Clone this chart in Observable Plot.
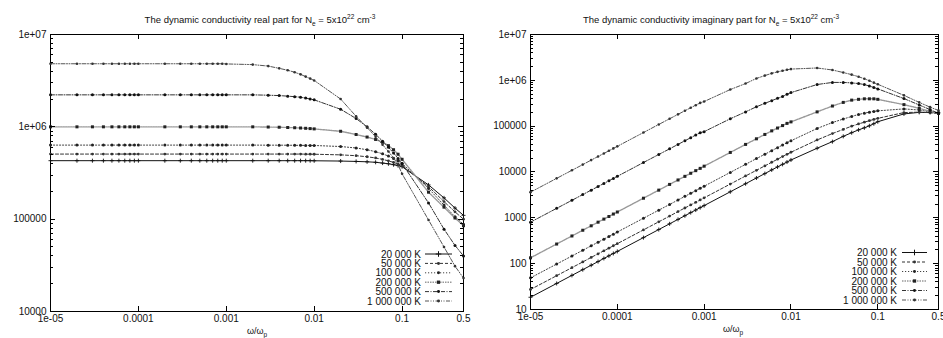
<!DOCTYPE html>
<html><head><meta charset="utf-8">
<script src="https://cdn.jsdelivr.net/npm/d3@7"></script>
<script src="https://cdn.jsdelivr.net/npm/@observablehq/plot@0.6"></script>
<style>
body{margin:0;background:#fff;width:943px;height:338px;overflow:hidden;position:relative;font-family:"Liberation Sans",Arial,sans-serif;}
.panel{position:absolute;top:0;height:338px;}
.title{position:absolute;top:13px;font-size:9.5px;white-space:nowrap;transform:translateX(-50%);color:#111;}
.title sub,.title sup{font-size:6.5px;}
.xlabel{position:absolute;font-size:9px;white-space:nowrap;transform:translateX(-50%);color:#111;}
.xlabel sub{font-size:6.5px;}
</style></head><body>
<div id="left" class="panel" style="left:0;width:470px"></div>
<div id="right" class="panel" style="left:470px;width:473px"></div>
<div class="title" style="left:260px">The dynamic conductivity real part for N<sub>e</sub> = 5x10<sup>22</sup> cm<sup>-3</sup></div>
<div class="title" style="left:711px">The dynamic conductivity imaginary part for N<sub>e</sub> = 5x10<sup>22</sup> cm<sup>-3</sup></div>
<div class="xlabel" style="left:257px;top:326px">ω/ω<sub>p</sub></div>
<div class="xlabel" style="left:733px;top:324px">ω/ω<sub>p</sub></div>
<script>
// ---- data ----
const temps = ["20 000 K","50 000 K","100 000 K","200 000 K","500 000 K","1 000 000 K"];
const xs = [1e-5,2e-5,3e-5,4e-5,5e-5,6e-5,7e-5,8e-5,9e-5,
  1e-4,2e-4,3e-4,4e-4,5e-4,6e-4,7e-4,8e-4,9e-4,
  1e-3,2e-3,3e-3,4e-3,5e-3,6e-3,7e-3,8e-3,9e-3,
  0.01,0.02,0.03,0.04,0.05,0.06,0.07,0.08,0.09,
  0.1,0.2,0.3,0.4,0.5];

// real part
const re20k = [430000,430000,430000,430000,430000,430000,430000,430000,430000,
  430000,430000,430000,430000,430000,430000,430000,430000,430000,
  430000,430000,430000,430000,430000,430000,430000,430000,430000,
  429000,426000,422000,418000,413000,405000,398000,389000,380000,
  370000,235000,170000,132000,110000];
const re50k = [507000,507000,507000,507000,507000,507000,507000,507000,507000,
  507000,507000,507000,507000,507000,507000,507000,507000,507000,
  507000,507000,507000,507000,507000,507000,507000,506000,506000,
  505000,497000,487000,474000,460000,444000,428000,412000,396000,
  380000,225000,155000,120000,100000];
const re100k = [634000,634000,634000,634000,634000,634000,634000,634000,634000,
  634000,634000,634000,634000,634000,634000,634000,634000,634000,
  634000,634000,633000,633000,632000,631000,630000,629000,629000,
  628000,612000,590000,565000,538000,510000,482000,455000,428000,
  402000,215000,142000,106000,88000];
const re200k = [1000000,1000000,1000000,1000000,1000000,1000000,1000000,1000000,1000000,
  1000000,1000000,1000000,1000000,1000000,1000000,1000000,1000000,1000000,
  1000000,1000000,995000,990000,984000,978000,971000,964000,957000,
  950000,895000,826000,775000,730000,680000,625000,565000,505000,
  445000,196000,135000,103000,85000];
const re500k = [2220000,2220000,2220000,2220000,2220000,2220000,2220000,2220000,2220000,
  2220000,2220000,2220000,2220000,2220000,2220000,2220000,2220000,2220000,
  2220000,2220000,2200000,2180000,2150000,2120000,2090000,2050000,2000000,
  1960000,1550000,1230000,1000000,830000,700000,600000,520000,455000,
  400000,150000,78000,52000,40000];
const re1M = [4820000,4820000,4820000,4820000,4820000,4820000,4820000,4820000,4820000,
  4820000,4820000,4820000,4820000,4820000,4820000,4820000,4820000,4820000,
  4800000,4720000,4550000,4300000,4100000,3900000,3700000,3500000,3330000,
  3180000,2000000,1300000,980000,780000,640000,540000,460000,390000,
  310000,98000,50000,31000,23000];

// imaginary part
const im20k = [18.5,37,55.5,74,92.5,111,130,148,167,
  185,370,555,740,925,1110,1300,1480,1670,
  1850,3700,5550,7400,9230,11100,12900,14700,16500,
  18300,33000,46000,60000,72000,83000,92000,102000,113000,
  125000,185000,200000,198000,195000];
const im50k = [27.3,54.6,81.9,109,137,164,191,218,246,
  273,546,819,1090,1370,1640,1910,2180,2460,
  2730,5460,8190,10900,13600,16300,19000,21700,24300,
  27000,50000,69000,85000,100000,112000,122000,132000,140000,
  148000,198000,202000,197000,190000];
const im100k = [49,98,147,196,245,294,343,392,441,
  490,980,1470,1960,2450,2940,3430,3920,4410,
  4900,9800,14700,19600,24400,29200,34000,38800,43500,
  48000,89000,120000,143000,163000,180000,192000,202000,210000,
  216000,238000,225000,205000,190000];
const im200k = [134,268,402,536,670,804,938,1070,1210,
  1340,2680,4020,5360,6700,8040,9380,10700,12000,
  13400,26700,40000,53000,66000,79000,91000,103000,115000,
  124000,205000,275000,330000,370000,385000,395000,395000,395000,
  385000,295000,245000,210000,195000];
const im500k = [804,1610,2410,3220,4020,4820,5630,6430,7240,
  8040,16100,24100,32000,40000,48000,56000,64000,72000,
  76000,145000,205000,265000,315000,360000,405000,445000,495000,
  540000,810000,900000,900000,880000,850000,810000,750000,700000,
  650000,400000,290000,230000,190000];
const im1M = [3630,7260,10900,14500,18200,21800,25400,29000,32700,
  36300,72600,109000,145000,181000,217000,252000,287000,322000,
  345000,630000,850000,1100000,1270000,1420000,1530000,1620000,1700000,
  1760000,1860000,1680000,1480000,1330000,1200000,1080000,980000,890000,
  820000,470000,330000,260000,220000];

const xTicks = [1e-5,1e-4,1e-3,1e-2,0.1,0.5];
const xTickLabels = ["1e-05","0.0001","0.001","0.01","0.1","0.5"];
const yTicksRe = [1e4,1e5,1e6,1e7];
const yTickLabelsRe = ["10000","100000","1e+06","1e+07"];
const yTicksIm = [10,100,1000,1e4,1e5,1e6,1e7];
const yTickLabelsIm = ["10","100","1000","10000","100000","1e+06","1e+07"];

// ---- styles (not data) ----
const styles = [
  {stroke:"#111", dash:null, width:1, symbol:"plus", r:1.4, fill:"none", mstroke:"#111"},
  {stroke:"#333", dash:"3,2", width:1, symbol:"circle", r:1.4, fill:"#333", mstroke:"none"},
  {stroke:"#444", dash:"1.2,1.8", width:1, symbol:"circle", r:1.5, fill:"#222", mstroke:"none"},
  {stroke:"#999", dash:"1.5,1", width:1.4, symbol:"square", r:1.7, fill:"#222", mstroke:"none"},
  {stroke:"#333", dash:"4,1.5,1,1.5", width:1, symbol:"circle", r:1.5, fill:"#111", mstroke:"none"},
  {stroke:"#555", dash:"4,1.5,1,1.5,1,1.5", width:1, symbol:"circle", r:1.3, fill:"#333", mstroke:"none"}
];

function rows(vals){ return xs.map((x,i)=>({x, y: vals[i]})); }

function makePanel(el, series, yTicks, yLabels, yDomain, m, legend){
  const W = el === "left" ? 470 : 473, H = 338;
  const marks = [Plot.frame({stroke:"black"})];
  series.forEach((vals,i)=>{
    const s = styles[i];
    marks.push(Plot.line(rows(vals), {x:"x", y:"y", stroke:s.stroke, strokeWidth:s.width, strokeDasharray:s.dash}));
    marks.push(Plot.dot(rows(vals), {x:"x", y:"y", symbol:s.symbol, r:s.r, fill:s.fill, stroke:s.mstroke, strokeWidth:0.9}));
  });
  marks.push(Plot.text(xTicks, {x:d=>d, text:(d,i)=>xTickLabels[i], frameAnchor:"bottom", dy:10, fill:"#111", fontSize:10}));
  marks.push(Plot.axisY({ticks:yTicks, tickFormat:d=>yLabels[yTicks.indexOf(d)], tickSize:0, tickPadding:4, label:null, fill:"#111"}));
  const plot = Plot.plot({
    width:W, height:H,
    marginTop:m.t, marginBottom:m.b, marginLeft:m.l, marginRight:m.r,
    style:{fontFamily:"Liberation Sans, Arial, sans-serif", fontSize:"10px", background:"transparent", overflow:"visible"},
    x:{type:"log", domain:[1e-5,0.5], axis:null},
    y:{type:"log", domain:yDomain},
    marks
  });
  document.getElementById(el).appendChild(plot);
  const sxo = plot.scale("x"), syo = plot.scale("y");
  const sx = v=>sxo.apply(v), sy = v=>syo.apply(v);
  const L = m.l, R = W - m.r, T = m.t, B = H - m.b;
  const g = d3.select(plot).append("g").attr("stroke","black").attr("stroke-width",1);
  xTicks.slice(1,5).forEach(t=>{
    const x = Math.round(sx(t))+0.5;
    g.append("line").attr("x1",x).attr("x2",x).attr("y1",B).attr("y2",B-5);
    g.append("line").attr("x1",x).attr("x2",x).attr("y1",T).attr("y2",T+5);
  });
  const e0 = Math.log10(yDomain[0]), e1 = Math.log10(yDomain[1]);
  for(let e=e0;e<=e1;e++){
    for(let k=1;k<=9;k++){
      const v = k*Math.pow(10,e);
      if (v>yDomain[1]) break;
      const y = Math.round(sy(v))+0.5;
      const len = k===1 ? 5 : 3;
      if (k===1 && (e===e0||e===e1)) continue;
      g.append("line").attr("x1",L).attr("x2",L+len).attr("y1",y).attr("y2",y);
      g.append("line").attr("x1",R).attr("x2",R-len).attr("y1",y).attr("y2",y);
    }
  }
  // legend
  const lg = d3.select(plot).append("g");
  temps.forEach((t,i)=>{
    const s = styles[i];
    const y = legend.y0 + i*legend.dy;
    lg.append("text").attr("x",legend.tx).attr("y",y).attr("text-anchor","end")
      .attr("dy","0.35em").attr("font-size","10px").attr("fill","#111").text(t);
    lg.append("line").attr("x1",legend.l1).attr("x2",legend.l2).attr("y1",y).attr("y2",y)
      .attr("stroke",s.stroke).attr("stroke-width",s.width).attr("stroke-dasharray",s.dash);
    const cx = (legend.l1+legend.l2)/2;
    const sym = d3.symbol().type(s.symbol==="plus"?d3.symbolPlus:s.symbol==="square"?d3.symbolSquare:d3.symbolCircle)
      .size(s.symbol==="plus"?12:s.symbol==="square"?11:7);
    lg.append("path").attr("d",sym()).attr("transform",`translate(${cx},${y})`)
      .attr("fill",s.symbol==="plus"?"none":s.fill).attr("stroke",s.symbol==="plus"?"#111":"none");
  });
}

makePanel("left", [re20k,re50k,re100k,re200k,re500k,re1M], yTicksRe, yTickLabelsRe, [1e4,1e7],
  {t:34,b:27,l:50,r:7}, {y0:254, dy:9.4, tx:421, l1:425, l2:452});
makePanel("right", [im20k,im50k,im100k,im200k,im500k,im1M], yTicksIm, yTickLabelsIm, [10,1e7],
  {t:34,b:29,l:60,r:5}, {y0:252.5, dy:9.5, tx:427, l1:432, l2:457});
</script>
</body></html>
